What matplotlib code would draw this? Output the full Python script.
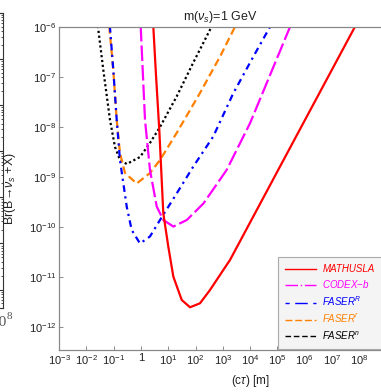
import matplotlib
matplotlib.use("Agg")
import matplotlib.pyplot as plt
from matplotlib.lines import Line2D
import numpy as np

plt.rcParams['font.family'] = ['Liberation Sans', 'DejaVu Sans']
plt.rcParams['mathtext.fontset'] = 'custom'
plt.rcParams['mathtext.rm'] = 'Liberation Sans'
plt.rcParams['mathtext.it'] = 'Liberation Sans:italic'

# values: decay length c*tau [m] and branching ratio
mathusla_ct = [2.84, 3.57, 4.72, 6.62, 10.1, 15.4, 31.3, 63.1, 146, 340, 1042, 1837, 2.88e5, 7.2e7]
mathusla_br = [1.05e-6, 1.1e-7, 8.7e-9, 1.88e-10, 4.04e-11, 1.02e-11, 3.47e-12, 2.48e-12, 2.98e-12, 5.5e-12,
               1.38e-11, 2.19e-11, 3.8e-9, 1.05e-6]

codex_ct = [0.98, 1.164, 1.413, 2.15, 3.80, 6.61, 15.5, 47.9, 195, 1380, 1.0e4, 3.0e5]
codex_br = [1.05e-6, 1.38e-7, 1.38e-8, 1.38e-9, 2.57e-10, 1.38e-10, 1.02e-10, 1.38e-10, 2.95e-10, 1.38e-9,
            1.2e-8, 1.05e-6]

faserR_ct = [0.073, 0.0975, 0.130, 0.171, 0.302, 0.460, 0.927, 2.15, 5.01, 20.4, 83.2, 447, 2399, 1.32e4, 5.6e4]
faserR_br = [1.05e-6, 1.38e-7, 1.38e-8, 2.19e-9, 2.57e-10, 8.7e-11, 4.68e-11, 6.46e-11, 1.38e-10, 4.68e-10,
             1.62e-9, 6.46e-9, 4.68e-8, 2.57e-7, 1.05e-6]

faserr_ct = [0.069, 0.0975, 0.130, 0.171, 0.262, 0.701, 2.15, 5.01, 20.4, 146, 794, 2900]
faserr_br = [1.05e-6, 1.38e-7, 1.38e-8, 3.02e-9, 1.2e-9, 7.41e-10, 1.2e-9, 2.19e-9, 7.59e-9, 4.79e-8, 2.57e-7, 1.05e-6]

fasern_ct = [0.0265, 0.042, 0.0738, 0.1125, 0.1714, 0.302, 0.927, 2.15, 5.01, 20.4, 81.3, 400]
fasern_br = [1.05e-6, 1.38e-7, 1.38e-8, 3.98e-9, 2.19e-9, 1.82e-9, 2.51e-9, 4.79e-9, 1.0e-8, 4.07e-8, 1.9e-7, 1.05e-6]

xticks = [1e-3, 1e-2, 1e-1, 1, 1e1, 1e2, 1e3, 1e4, 1e5, 1e6, 1e7, 1e8]
xticklabels = [r'$10^{-3}$', r'$10^{-2}$', r'$10^{-1}$', '1', r'$10^{1}$', r'$10^{2}$', r'$10^{3}$',
               r'$10^{4}$', r'$10^{5}$', r'$10^{6}$', r'$10^{7}$', r'$10^{8}$']
yticks = [1e-12, 1e-11, 1e-10, 1e-9, 1e-8, 1e-7, 1e-6]
yticklabels = [r'$10^{-12}$', r'$10^{-11}$', r'$10^{-10}$', r'$10^{-9}$', r'$10^{-8}$', r'$10^{-7}$', r'$10^{-6}$']

W, H = 381, 392
fig = plt.figure(figsize=(W / 100, H / 100), dpi=100)

# leftover frame of the neighbouring panel
ax0 = fig.add_axes([-0.5, (H - 308) / H, 0.5 + 3 / W, (308 - 13) / H])
ax0.patch.set_visible(False)
ax0.set_yscale('log')
ax0.set_ylim(10 ** -12.4, 1e-6)
ax0.set_xticks([])
ax0.spines['left'].set_visible(False)
for s in ['top', 'right', 'bottom']:
    ax0.spines[s].set_color('#333333')
    ax0.spines[s].set_linewidth(0.8)
ax0.yaxis.tick_right()
ax0.tick_params(axis='y', which='both', direction='in', labelright=False, color='#333333')
ax0.tick_params(axis='y', which='major', length=3)
ax0.tick_params(axis='y', which='minor', length=1.5)
fig.text(7 / W, 1 - 326 / H, '10', ha='right', va='baseline', fontsize=11, family='Liberation Serif', color='#555555')
fig.text(7 / W, 1 - 319 / H, '8', ha='left', va='baseline', fontsize=8, family='Liberation Serif', color='#555555')

ax = fig.add_axes([59 / W, (H - 350) / H, (W - 59) / W, 323 / H])
ax.set_xscale('log')
ax.set_yscale('log')

ax.plot(fasern_ct, fasern_br, color='black', lw=1.6, linestyle=(0, (1.0, 1.2)))
ax.plot(faserr_ct, faserr_br, color='#ff8000', lw=1.6, linestyle=(0, (3.5, 1.8)))
ax.plot(faserR_ct, faserR_br, color='#0000ff', lw=1.6, linestyle=(0, (3, 2, 1, 2)))
ax.plot(codex_ct, codex_br, color='#ff00ff', lw=1.6, linestyle=(0, (7, 1.8)))
ax.plot(mathusla_ct, mathusla_br, color='#ff0000', lw=1.6)

ax.set_xlim(1e-3, 10 ** (-3 + (W - 59) / 27.3))
ax.set_ylim(10 ** -12.46, 1e-6)
ax.set_xticks(xticks)
ax.set_xticklabels(xticklabels)
ax.set_yticks(yticks)
ax.set_yticklabels(yticklabels)
ax.minorticks_off()
ax.tick_params(which='both', direction='in', length=3, width=0.6, color='#777777',
               labelsize=8, pad=2, labelcolor='#222222')
for s in ['left', 'bottom', 'top']:
    ax.spines[s].set_color('#888888')
    ax.spines[s].set_linewidth(0.9)
ax.spines['right'].set_visible(False)

ax.set_title(r'm($\nu_s$)=1 GeV', fontsize=9, color='#222222', pad=5)
ax.set_xlabel(r'(c$\tau$) [m]', fontsize=8.5, color='#222222')
ax.xaxis.set_label_coords((250 - 59) / (W - 59), -(373 - 350) / 323)
ax.set_ylabel(r'Br(B→$\nu_s$ +X)', fontsize=9, color='#222222')
ax.yaxis.set_label_coords((18 - 59) / (W - 59), (350 - 189) / 323)

handles = [Line2D([], [], color='#ff0000', lw=1.0),
           Line2D([], [], color='#ff00ff', lw=1.0, linestyle=(0, (9, 2, 1, 2))),
           Line2D([], [], color='#0000ff', lw=1.0, linestyle=(0, (3, 4, 9, 4))),
           Line2D([], [], color='#ff8000', lw=1.0, linestyle=(0, (5, 2))),
           Line2D([], [], color='black', lw=1.0, linestyle=(0, (4, 2)))]
labels = ['MATHUSLA', 'CODEX$-$b', r'FASER$^R$', r'FASER$^r$', r'FASER$^n$']
leg = ax.legend(handles, labels, loc='lower left',
                bbox_to_anchor=((278 - 59) / (W - 59), 1 / 323, (400 - 278) / (W - 59), 0.28),
                mode='expand', fontsize=7, handlelength=3.2, handletextpad=0.6,
                labelspacing=0.42, borderpad=0.75, borderaxespad=0.0, fancybox=False, framealpha=1,
                facecolor='#f4f4f4', edgecolor='#aaaaaa',
                labelcolor=['#ff0000', '#ff00ff', '#0000ff', '#ff8000', 'black'])
for t in leg.get_texts():
    t.set_fontstyle('italic')
leg.get_frame().set_linewidth(0.8)

fig.savefig('out.png', dpi=100)
